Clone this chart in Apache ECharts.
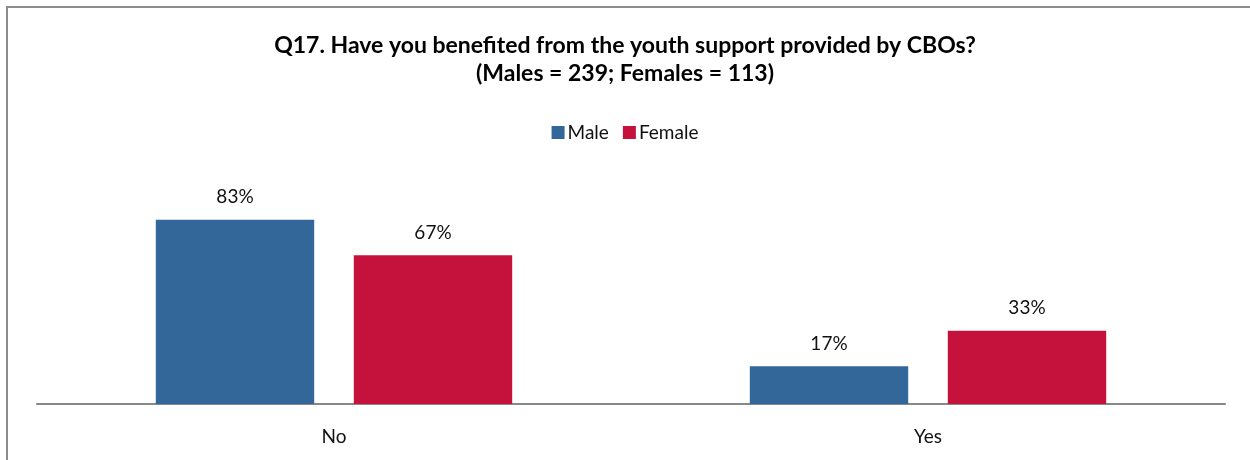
<!DOCTYPE html>
<html>
<head>
<meta charset="utf-8">
<script src="https://cdn.jsdelivr.net/npm/echarts@6/dist/echarts.min.js"></script>
<style>
  html, body { margin: 0; padding: 0; background: #fff; }
  #chart { width: 1250px; height: 460px; }
</style>
</head>
<body>
<div id="chart"></div>
<script>
// Q17 responses by gender (percent)
const categories = ['No', 'Yes'];
const maleValues = [83, 17];
const femaleValues = [67, 33];
const seriesNames = ['Male', 'Female'];

const FONT = 'Lato, "DejaVu Sans", sans-serif';

const chart = echarts.init(document.getElementById('chart'));

const labelStyle = {
  show: true,
  position: 'top',
  distance: 13,
  formatter: p => p.value + '%',
  color: '#111',
  fontSize: 19,
  fontFamily: FONT
};

chart.setOption({
  animation: false,
  title: {
    text: 'Q17. Have you benefited from the youth support provided by CBOs?\n(Males = 239; Females = 113)',
    left: 'center',
    top: 27,
    textStyle: {
      fontFamily: FONT,
      fontWeight: 'bold',
      fontSize: 23,
      lineHeight: 28,
      color: '#000'
    }
  },
  legend: {
    data: seriesNames,
    top: 118,
    left: 'center',
    itemWidth: 13,
    itemHeight: 13,
    itemGap: 14,
    icon: 'rect',
    textStyle: { fontFamily: FONT, fontSize: 19, color: '#111', padding: [0, 0, 0, -2] }
  },
  graphic: [{
    type: 'rect',
    shape: { x: 7, y: 7, width: 1300, height: 500 },
    style: { fill: 'none', stroke: '#8c8c8c', lineWidth: 2 },
    silent: true
  }],
  grid: { left: 37, right: 25, top: 182, bottom: 56 },
  xAxis: {
    type: 'category',
    data: categories,
    axisLine: { lineStyle: { color: '#888', width: 2 } },
    axisTick: { show: false },
    axisLabel: { margin: 23, fontSize: 19, fontFamily: FONT, color: '#111' }
  },
  yAxis: {
    type: 'value',
    min: 0,
    max: 100,
    show: false
  },
  series: [
    {
      name: seriesNames[0],
      type: 'bar',
      data: maleValues,
      barCategoryGap: '40%',
      barGap: '25%',
      itemStyle: { color: '#336699' },
      label: labelStyle
    },
    {
      name: seriesNames[1],
      type: 'bar',
      data: femaleValues,
      itemStyle: { color: '#C4123C' },
      label: labelStyle
    }
  ]
});
</script>
</body>
</html>
